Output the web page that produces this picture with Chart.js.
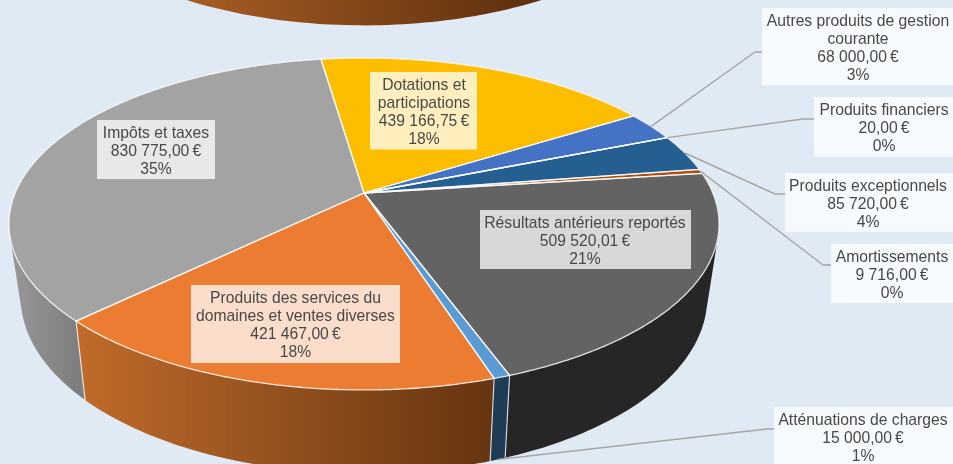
<!DOCTYPE html>
<html lang="fr">
<head>
<meta charset="utf-8">
<style>
html,body{margin:0;padding:0;background:#DFEAF4;overflow:hidden}
canvas{display:block}
</style>
<script src="https://cdn.jsdelivr.net/npm/chart.js@4"></script>
</head>
<body>
<canvas id="c" width="953" height="464"></canvas>
<script>
const categories = ["Dotations et participations","Autres produits de gestion courante","Produits financiers","Produits exceptionnels","Amortissements","Résultats antérieurs reportés","Atténuations de charges","Produits des services du domaines et ventes diverses","Impôts et taxes"];
const values = [439166.75,68000,20,85720,9716,509520.01,15000,421467,830775];
const amountLabels = ["439\u00a0166,75\u202f€","68\u00a0000,00\u202f€","20,00\u202f€","85\u00a0720,00\u202f€","9\u00a0716,00\u202f€","509\u00a0520,01\u202f€","15\u00a0000,00\u202f€","421\u00a0467,00\u202f€","830\u00a0775,00\u202f€"];
const percentLabels = ["18%","3%","0%","4%","0%","21%","1%","18%","35%"];
const nameLines = [["Dotations et","participations"],["Autres produits de gestion","courante"],["Produits financiers"],["Produits exceptionnels"],["Amortissements"],["Résultats antérieurs reportés"],["Atténuations de charges"],["Produits des services du","domaines et ventes diverses"],["Impôts et taxes"]];
const topColors = ["#FDBE00","#4472C4","#70AD47","#255E91","#B0500F","#636363","#5B9BD5","#EB7C31","#A3A3A3"];
const wallColors = ["#8a6a00","#2b4a80","#44692b","#173b5c","#6a300a","#262626","#1F3C57",["#C06B2A","#5B2E0E"],["#989898","#7F7F7F"]];

// Layout (separate from the data): [left, top, right, bottom, text centre x]
const labelBoxes = [[370,72,477,149.5,424],[762,8,953,85,858],[814,97,953,157,884],[785,173,953,232,868],[831,244,953,303,892],[480,210,691,269,585],[774,407,953,466,863],[191,285,400,363,295.5],[97,120,215,179,156]];
// Leader elbow: [x, y, box-side x], null when the label sits on its slice
const leaderElbows = [null,[755,52,762],[803,119,814],[775,194,785],[823,265,831],null,[767,429,774],null,null];
const LEADER_FROM_WALL = 6;
const SERVICES = 7;
const wallGradientX = {7:[76,545],8:[10,76]};

const topFace = {cx:364, cy:193, a:348.8, b:160.2, k:0.1867};
const baseFace = {cx:364, cy:264, a:337, b:169.6, k:0.19};
const COPY_SHIFT = -448;

function project(f, t){
  const u=Math.cos(t), v=Math.sin(t), w=1-f.k*v;
  return [f.cx+f.a*u/w, f.cy+f.b*v/w];
}
function wallStyle(ctx,i){
  const c=wallColors[i];
  if(Array.isArray(c)){
    const g=ctx.createLinearGradient(wallGradientX[i][0],0,wallGradientX[i][1],0);
    g.addColorStop(0,c[0]); g.addColorStop(1,c[1]);
    return g;
  }
  return c;
}
function wallPath(ctx,s,e){
  const step=Math.PI/180;
  for(let t=s;t<e;t+=step){
    const n=Math.min(t+step,e);
    let q=[project(topFace,t),project(topFace,n),project(baseFace,n),project(baseFace,t)];
    let area=0;
    for(let j=0;j<4;j++){const A=q[j],B=q[(j+1)%4];area+=A[0]*B[1]-B[0]*A[1];}
    if(area<0)q=q.reverse();
    ctx.moveTo(q[0][0],q[0][1]);
    for(let j=1;j<4;j++)ctx.lineTo(q[j][0],q[j][1]);
    ctx.closePath();
  }
}
function drawWalls(ctx,arcs){
  const order=arcs.map((a,i)=>i).sort((p,q)=>Math.sin((arcs[p].startAngle+arcs[p].endAngle)/2)-Math.sin((arcs[q].startAngle+arcs[q].endAngle)/2));
  order.forEach(i=>{
    ctx.fillStyle=wallStyle(ctx,i);
    ctx.beginPath();
    wallPath(ctx,arcs[i].startAngle,arcs[i].endAngle);
    ctx.fill();
  });
  ctx.strokeStyle="rgba(255,255,255,0.75)"; ctx.lineWidth=1.2;
  arcs.forEach(a=>{
    if(Math.sin(a.startAngle)>0.1){
      const p=project(topFace,a.startAngle),q=project(baseFace,a.startAngle);
      ctx.beginPath();ctx.moveTo(p[0],p[1]);ctx.lineTo(q[0],q[1]);ctx.stroke();
    }
  });
}
function drawCopyWall(ctx,arcs){
  ctx.fillStyle=wallStyle(ctx,SERVICES);
  ctx.beginPath();
  wallPath(ctx,arcs[0].startAngle,arcs[arcs.length-1].endAngle);
  ctx.fill();
}
function topSlicePath(ctx,a){
  const step=Math.PI/360;
  ctx.beginPath();ctx.moveTo(topFace.cx,topFace.cy);
  for(let t=a.startAngle;t<a.endAngle;t+=step){const p=project(topFace,t);ctx.lineTo(p[0],p[1]);}
  const p=project(topFace,a.endAngle);ctx.lineTo(p[0],p[1]);ctx.closePath();
}
function drawTop(ctx,arcs){
  arcs.forEach((a,i)=>{topSlicePath(ctx,a);ctx.fillStyle=topColors[i];ctx.fill();});
  ctx.strokeStyle="rgba(255,255,255,0.8)";ctx.lineWidth=1.3;ctx.lineJoin="round";
  arcs.forEach(a=>{topSlicePath(ctx,a);ctx.stroke();});
}
function drawLabels(ctx,arcs){
  ctx.strokeStyle="#A6A6A6";ctx.lineWidth=1.4;
  leaderElbows.forEach((el,i)=>{
    if(!el)return;
    const m=(arcs[i].startAngle+arcs[i].endAngle)/2;
    const p=project(i===LEADER_FROM_WALL?baseFace:topFace,m);
    ctx.beginPath();ctx.moveTo(p[0],p[1]);ctx.lineTo(el[0],el[1]);ctx.lineTo(el[2],el[1]);ctx.stroke();
  });
  ctx.textAlign="center";ctx.textBaseline="middle";
  ctx.font='15.7px "Liberation Sans", Arial, sans-serif';
  labelBoxes.forEach((b,i)=>{
    ctx.fillStyle="rgba(255,255,255,0.75)";
    ctx.fillRect(b[0],b[1],b[2]-b[0],b[3]-b[1]);
    const lines=nameLines[i].concat([amountLabels[i],percentLabels[i]]);
    ctx.fillStyle="#484848";
    lines.forEach((l,j)=>ctx.fillText(l,b[4],b[1]+13.5+j*18));
  });
}
const tiltedPie={
  id:"tiltedPie",
  beforeDatasetsDraw(chart){
    const ctx=chart.ctx, arcs=chart.getDatasetMeta(0).data;
    ctx.save();
    ctx.save();ctx.translate(0,COPY_SHIFT);drawCopyWall(ctx,arcs);ctx.restore();
    drawWalls(ctx,arcs);
    drawTop(ctx,arcs);
    drawLabels(ctx,arcs);
    ctx.restore();
    return false;
  }
};
new Chart(document.getElementById("c"),{
  type:"pie",
  data:{labels:categories,datasets:[{data:values,backgroundColor:topColors}]},
  options:{responsive:false,animation:false,rotation:-8.4,
    plugins:{legend:{display:false},tooltip:{enabled:false}}},
  plugins:[tiltedPie]
});
</script>
</body>
</html>
